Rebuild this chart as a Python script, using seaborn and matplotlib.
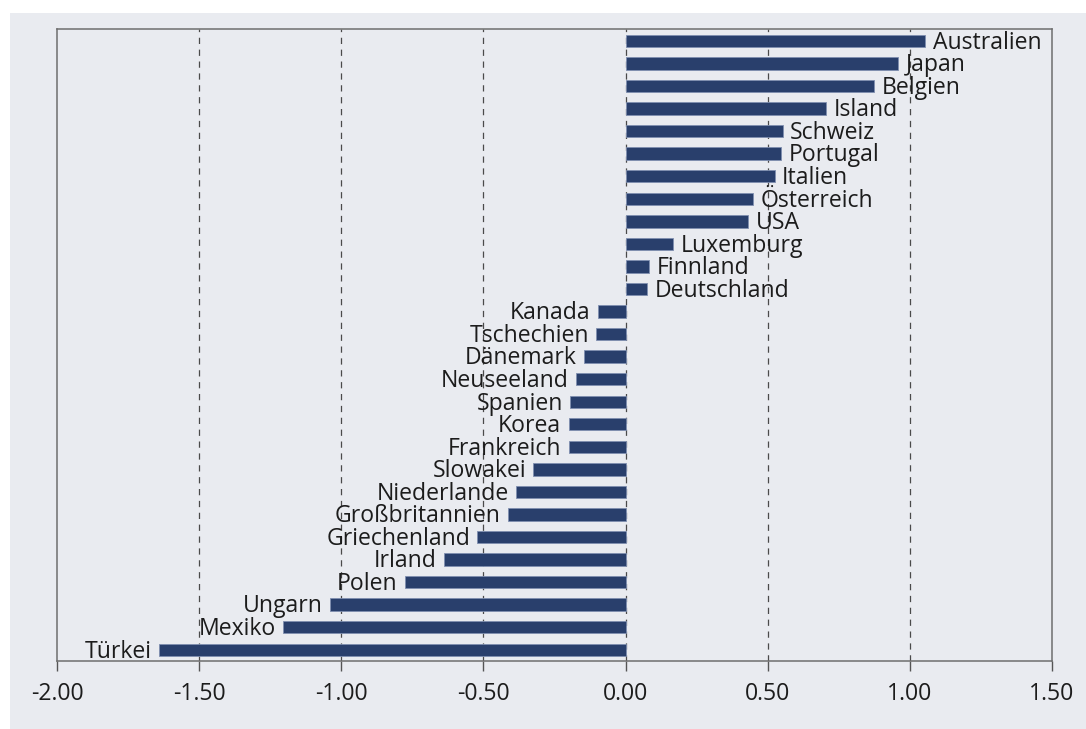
import matplotlib
matplotlib.use("Agg")
import matplotlib.pyplot as plt
import seaborn as sns
import pandas as pd
from matplotlib.patches import Rectangle

countries = [
    "Australien", "Japan", "Belgien", "Island", "Schweiz", "Portugal", "Italien",
    "Österreich", "USA", "Luxemburg", "Finnland", "Deutschland", "Kanada",
    "Tschechien", "Dänemark", "Neuseeland", "Spanien", "Korea", "Frankreich",
    "Slowakei", "Niederlande", "Großbritannien", "Griechenland", "Irland",
    "Polen", "Ungarn", "Mexiko", "Türkei",
]
values = [
    1.055, 0.959, 0.875, 0.705, 0.553, 0.548, 0.524,
    0.449, 0.431, 0.167, 0.083, 0.077, -0.097,
    -0.103, -0.146, -0.175, -0.194, -0.200, -0.200,
    -0.324, -0.384, -0.415, -0.521, -0.638,
    -0.776, -1.040, -1.205, -1.640,
]
x_ticks = [-2.0, -1.5, -1.0, -0.5, 0.0, 0.5, 1.0, 1.5]

df = pd.DataFrame({"Land": countries, "Wert": values})

sns.set_theme(style="white")
plt.rcParams["font.family"] = ["Open Sans", "DejaVu Sans"]

BG = "#e9ebf0"
BAR = "#293f6c"
TXT = "#1c1c1c"
FS = 16.6

W, H = 1086, 729
fig = plt.figure(figsize=(W / 100, H / 100), dpi=100, facecolor="white")
fig.patches.append(Rectangle((10 / W, 0), 1 - 10 / W, 1 - 13 / H,
                             transform=fig.transFigure, facecolor=BG,
                             edgecolor="none", zorder=-10))
ax = fig.add_axes([57 / W, 1 - 661 / H, (1052 - 57) / W, (661 - 29) / H])
ax.set_zorder(1)
ax.set_facecolor(BG)

sns.barplot(data=df, x="Wert", y="Land", orient="h", color=BAR,
            saturation=1, width=0.55, edgecolor="#7f8fb0", linewidth=0.6,
            ax=ax, zorder=3)

ax.set_xlim(x_ticks[0], x_ticks[-1])
ax.set_ylim(len(countries) - 0.5, -0.53)

for xv in x_ticks[1:-1]:
    ax.axvline(xv, color="#4a4a4a", lw=0.9, ls=(0, (5, 4.5)), zorder=1)

pad = 0.026
for i, (name, v) in enumerate(zip(countries, values)):
    if v >= 0:
        ax.text(v + pad, i + 0.08, name, ha="left", va="center", fontsize=FS,
                color=TXT, zorder=4)
    else:
        ax.text(v - pad, i + 0.08, name, ha="right", va="center", fontsize=FS,
                color=TXT, zorder=4)

ax.set_xticks(x_ticks)
ax.set_xticklabels([f"{t:.2f}" for t in x_ticks], fontsize=FS, color=TXT)
ax.set_yticks([])
ax.set_xlabel("")
ax.set_ylabel("")
ax.tick_params(axis="x", direction="out", length=7, width=1, color="#555555",
               pad=8, bottom=True)
for s in ax.spines.values():
    s.set_color("#6e6e6e")
    s.set_linewidth(1.1)
    s.set_visible(True)

fig.savefig("out.png", dpi=100, facecolor="white")
